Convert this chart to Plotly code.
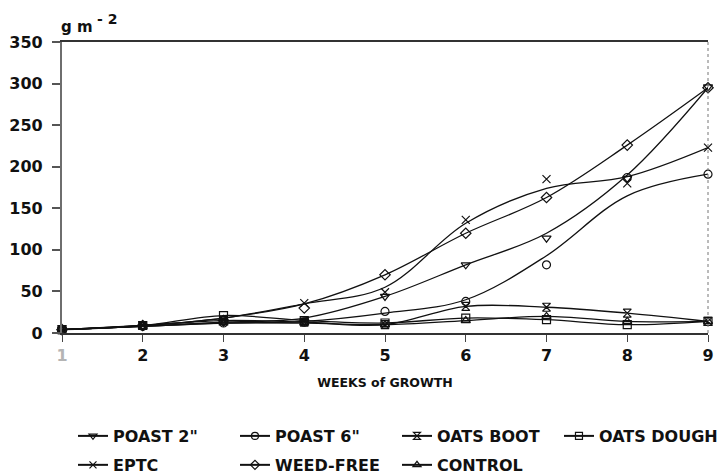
import plotly.graph_objects as go

# Weeks after planting
weeks = [1, 2, 3, 4, 5, 6, 7, 8, 9]
week_labels = ['<span style="color:#b4b4b4">1</span>', "2", "3", "4", "5", "6", "7", "8", "9"]

# Measured dry weight, g m-2
poast2 = [4, 8, 13, 14, 44, 82, 114, 186, 296]
poast6 = [4, 8, 12, 13, 26, 38, 82, 187, 191]
oats_boot = [4, 9, 15, 13, 10, 32, 31, 24, 14]
oats_dough = [4, 9, 21, 15, 12, 18, 16, 10, 14]
eptc = [4, 9, 16, 36, 49, 136, 185, 180, 223]
weed_free = [4, 9, 15, 30, 70, 120, 163, 226, 295]
control = [4, 8, 12, 12, 10, 15, 20, 14, 14]

# Smoothed growth curves fitted to the measurements
poast2_fit = [4, 8, 13, 18, 44, 82, 120, 190, 295]
poast6_fit = [4, 8, 12, 14, 24, 40, 93, 165, 191]
oats_boot_fit = oats_boot
oats_dough_fit = oats_dough
eptc_fit = [4, 9, 18, 35, 55, 132, 174, 188, 223]
weed_free_fit = [4, 9, 18, 35, 70, 120, 163, 226, 295]
control_fit = control

y_ticks = [0, 50, 100, 150, 200, 250, 300, 350]

series = [
    ('POAST 2"', poast2, poast2_fit, "triangle-down-open", "legend"),
    ('POAST 6"', poast6, poast6_fit, "circle-open", "legend"),
    ("OATS BOOT", oats_boot, oats_boot_fit, "hourglass-open", "legend"),
    ("OATS DOUGH", oats_dough, oats_dough_fit, "square-open", "legend"),
    ("EPTC", eptc, eptc_fit, "x-thin-open", "legend2"),
    ("WEED-FREE", weed_free, weed_free_fit, "diamond-open", "legend2"),
    ("CONTROL", control, control_fit, "triangle-up-open", "legend2"),
]

INK = "#111111"
fig = go.Figure()

for name, obs, fit, symbol, leg in series:
    marker = dict(symbol=symbol, size=8, color=INK, line=dict(color=INK, width=1.2))
    # fitted curve
    fig.add_trace(go.Scatter(
        x=weeks, y=fit, mode="lines", line=dict(color=INK, width=1.3, shape="spline"),
        showlegend=False, cliponaxis=False, hoverinfo="skip",
    ))
    # measured points
    fig.add_trace(go.Scatter(
        x=weeks, y=obs, mode="markers", marker=marker, name=name,
        showlegend=False, cliponaxis=False,
    ))
    # legend key: line with symbol
    fig.add_trace(go.Scatter(
        x=[None], y=[None], mode="lines+markers", name=name, legend=leg,
        line=dict(color=INK, width=2), marker=dict(symbol=symbol, size=7, color=INK,
                                                   line=dict(color=INK, width=1.2)),
    ))

legend_common = dict(
    orientation="h", xanchor="left", yanchor="top", x=0.017,
    entrywidth=117, entrywidthmode="pixels",
    font=dict(family="DejaVu Sans", size=16, color=INK, weight="bold"),
    bgcolor="rgba(0,0,0,0)", itemclick=False,
)

unit_font = dict(family="DejaVu Sans", size=15, color=INK, weight="bold")

fig.update_layout(
    template="none",
    width=724, height=476,
    margin=dict(l=62, r=16, t=42, b=143, autoexpand=False),
    paper_bgcolor="white", plot_bgcolor="white",
    font=dict(family="DejaVu Sans", size=16, color=INK, weight="bold"),
    legend=dict(y=-0.2955, **legend_common),
    legend2=dict(y=-0.395, **legend_common),
    xaxis=dict(
        range=[1, 9], tickvals=weeks, ticktext=week_labels,
        showline=True, linecolor="#333333", linewidth=1.5, mirror=True,
        ticks="outside", ticklen=7, tickwidth=1, tickcolor="#444444",
        showgrid=False, zeroline=False, automargin=False,
        tickfont=dict(size=16), ticklabelstandoff=0,
        title=dict(text="WEEKS of GROWTH", font=dict(size=12.5), standoff=14),
    ),
    xaxis2=dict(
        range=[1, 9], overlaying="x", side="bottom", anchor="y",
        tickvals=weeks, showticklabels=False, ticks="inside", ticklen=9,
        tickwidth=1, tickcolor="#444444", showline=False, showgrid=False,
        zeroline=False, automargin=False,
    ),
    yaxis=dict(
        range=[0, 350], tickvals=y_ticks,
        showline=True, linecolor="#6e6e6e", linewidth=2.2,
        ticks="outside", ticklen=8, tickwidth=1.6, tickcolor="#555555",
        showgrid=False, zeroline=False, automargin=False,
        tickfont=dict(size=16), ticklabelstandoff=6,
    ),
    yaxis2=dict(
        range=[0, 350], overlaying="y", side="left", anchor="x",
        tickvals=y_ticks, showticklabels=False, ticks="inside", ticklen=7,
        tickwidth=1.6, tickcolor="#555555", showline=False, showgrid=False,
        zeroline=False, automargin=False,
    ),
    shapes=[dict(
        type="line", xref="x domain", yref="y domain", x0=1, x1=1, y0=0, y1=1,
        line=dict(color="#777777", width=1, dash="dot"), layer="above",
    )],
    annotations=[
        dict(text="g m", xref="paper", yref="paper", x=0, y=1,
             xanchor="left", yanchor="bottom", xshift=-3, yshift=4,
             showarrow=False, font=unit_font),
        dict(text="- 2", xref="paper", yref="paper", x=0, y=1,
             xanchor="left", yanchor="bottom", xshift=33, yshift=13,
             showarrow=False, font=dict(unit_font, size=14)),
    ],
)

fig.write_html("out.html")
